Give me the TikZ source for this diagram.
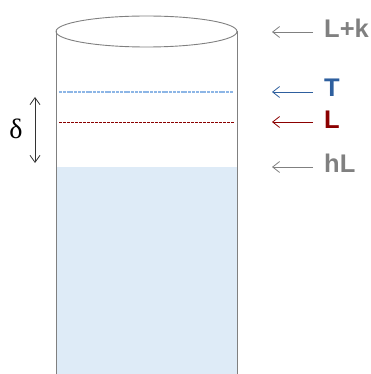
\documentclass[tikz,border=0pt]{standalone}
\usepackage{fontspec}
\setsansfont{Liberation Sans}
\newfontfamily\deltafont{Liberation Serif}
\usetikzlibrary{arrows.meta}
\definecolor{wallgray}{HTML}{808080}
\definecolor{water}{HTML}{DEEBF7}
\definecolor{tblue}{HTML}{2E5F9E}
\definecolor{tline}{HTML}{8DB6E6}
\definecolor{lred}{HTML}{8B0000}
\begin{document}
\begin{tikzpicture}[x=1pt,y=-1pt,
  lbl/.style={anchor=west,font=\sffamily\bfseries\fontsize{25.5}{25.5}\selectfont,inner sep=1pt},
  level/.style={line width=0.8pt,-{Straight Barb[length=7pt,width=11pt]}}]
\useasboundingbox (0,0) rectangle (371,374);
% liquid and tube
\fill[water] (56,167) rectangle (237,374);
\draw[wallgray,line width=0.9pt] (56,374) -- (56,31.5);
\draw[wallgray,line width=0.9pt] (237,374) -- (237,31.5);
\draw[wallgray,line width=0.9pt] (146.5,31.5) ellipse [x radius=90.5,y radius=15.5];
\draw[tline,line width=1.2pt,dash pattern=on 3pt off 0.8pt] (59,92) -- (233,92);
\draw[lred,line width=0.8pt,dash pattern=on 2.5pt off 1.5pt] (59,122) -- (234,122);
% labels on the right
\node[lbl,text=wallgray] (LK) at (323,28.5) {L+k};
\node[lbl,text=tblue] (T) at (323,88) {T};
\node[lbl,text=lred] (L) at (323,120) {L};
\node[lbl,text=wallgray] (HL) at (323,163.5) {hL};
\coordinate (lk) at (272,32);
\coordinate (t) at (272,92);
\coordinate (l) at (272,122);
\coordinate (hl) at (272,167);
\path[level]
(LK.west |- lk) edge[wallgray,shorten <=10pt] (lk)
(T.west |- t) edge[tblue,shorten <=10pt] (t)
(L.west |- l) edge[lred,shorten <=10pt] (l)
(HL.west |- hl) edge[wallgray,shorten <=10pt] (hl);
% delta
\coordinate (d1) at (35,97);
\coordinate (d2) at (35,163);
\node (D) at (16,129) {\deltafont\fontsize{28}{28}\selectfont δ};
\draw[black!80,line width=0.8pt,{Straight Barb[length=7pt,width=10pt]}-{Straight Barb[length=7pt,width=10pt]}] (d1) -- (d2);
\end{tikzpicture}
\end{document}
